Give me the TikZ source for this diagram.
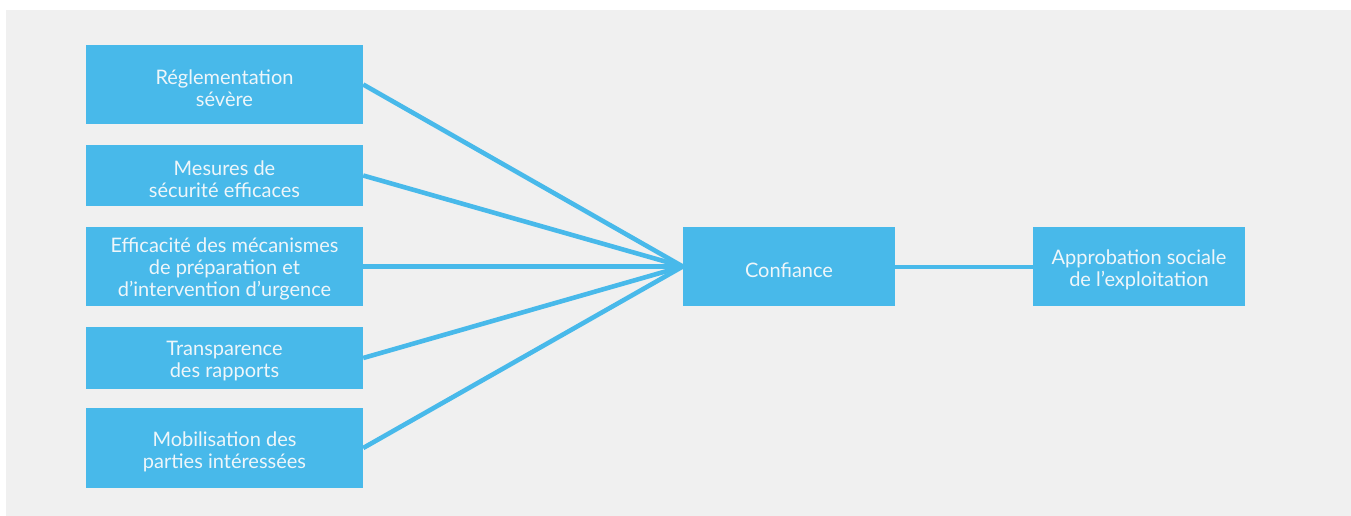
\documentclass[tikz,border=0pt]{standalone}
\usepackage{fontspec}
\setmainfont{Lato}
\definecolor{panelgray}{RGB}{240,240,240}
\definecolor{boxblue}{RGB}{72,185,234}
\definecolor{boxtext}{RGB}{238,246,250}
\begin{document}
\begin{tikzpicture}[x=1pt,y=-1pt,
  box/.style={fill=boxblue, draw=none, inner sep=0pt},
  lbl/.style={inner sep=0pt, align=center, text=boxtext,
    font=\fontsize{20}{22}\selectfont, yshift=-3.5pt},
  link/.style={draw=boxblue, line width=4.6pt}]
  % page frame and grey panel
  \useasboundingbox (0,0) rectangle (1351,516);
  \fill[panelgray] (6,10) rectangle (1351,516);

  % left column of factors
  \node[box, minimum width=277pt, minimum height=79pt] (f1) at (224.5,84.5) {};
  \node[box, minimum width=277pt, minimum height=61pt] (f2) at (224.5,175.5) {};
  \node[box, minimum width=277pt, minimum height=79pt] (f3) at (224.5,266.5) {};
  \node[box, minimum width=277pt, minimum height=62pt] (f4) at (224.5,358) {};
  \node[box, minimum width=277pt, minimum height=80pt] (f5) at (224.5,448) {};

  % central and right boxes
  \node[box, minimum width=212pt, minimum height=79pt] (conf) at (789,266.5) {};
  \node[box, minimum width=212pt, minimum height=79pt] (appr) at (1139,266.5) {};

  % box labels
  \node[lbl] (t1) at (f1) {Réglementation\\sévère};
  \node[lbl] (t2) at (f2) {Mesures de\\sécurité efficaces};
  \node[lbl, yshift=1pt] (t3) at (f3) {Efficacité des mécanismes\\de préparation et\\d’intervention d’urgence};
  \node[lbl] (t4) at (f4) {Transparence\\des rapports};
  \node[lbl] (t5) at (f5) {Mobilisation des\\parties intéressées};
  \node[lbl] (tc) at (conf) {Confiance};
  \node[lbl] (ta) at (appr) {Approbation sociale\\de l’exploitation};

  % connectors
  \foreach \f in {f1,f2,f3,f4,f5}
    \draw[link] (\f.east) -- (conf.west);
  \draw[link, line width=4pt] (conf.east) -- (appr.west);
\end{tikzpicture}
\end{document}
